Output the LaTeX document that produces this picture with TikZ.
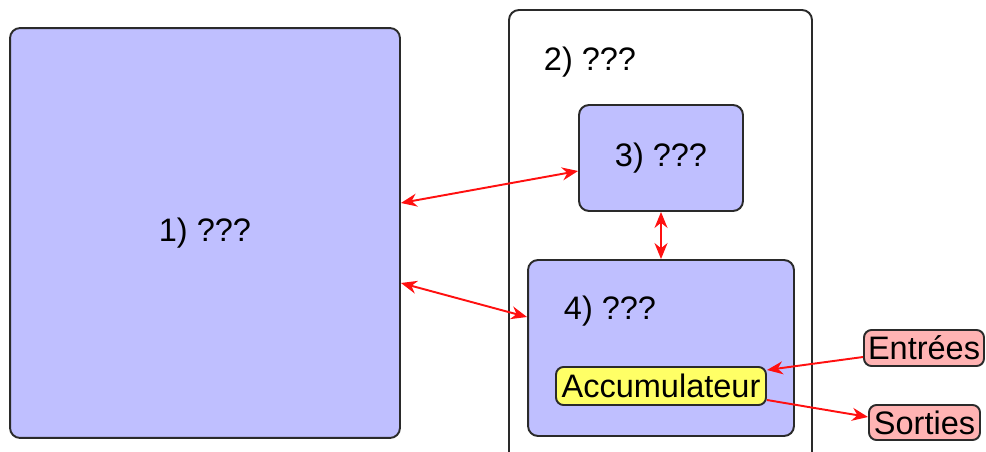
\documentclass[tikz,border=0pt]{standalone}
\usepackage{fontspec}
\setmainfont{Liberation Sans}
\usetikzlibrary{arrows.meta}
\definecolor{bleu}{HTML}{BFBFFF}
\definecolor{jaune}{HTML}{FFFF66}
\definecolor{rose}{HTML}{FFB3B3}
\definecolor{rouge}{HTML}{FF1010}
\definecolor{bord}{HTML}{2A2A2A}

\begin{document}
\begin{tikzpicture}[x=0.02cm,y=-0.02cm,>={Stealth[length=0.32cm,width=0.26cm]},
    bloc/.style={draw=bord,line width=1.1pt,rounded corners=0.2cm,fill=bleu,inner sep=0pt,font=\fontsize{18.5}{22}\selectfont},
    petit/.style={draw=bord,line width=1.1pt,rounded corners=0.15cm,inner sep=0pt,font=\fontsize{18.5}{22}\selectfont},
    fleche/.style={draw=rouge,line width=1.1pt}]
    \useasboundingbox (0,0) rectangle (986,452);

    % Cadre 2, ouvert en bas
    \draw[draw=bord,line width=1.1pt,rounded corners=0.2cm] (509,455) -- (509,10) -- (812,10) -- (812,455);
    \node[font=\fontsize{18.5}{22}\selectfont] (lab2) at (590,62) {2) ???};

    \node[bloc,minimum width=7.8cm,minimum height=8.2cm] (sys1) at (205,233) {1) ???};
    \node[bloc,minimum width=3.28cm,minimum height=2.12cm] (sys3) at (661,158) {3) ???};
    \node[bloc,minimum width=5.32cm,minimum height=3.52cm] (sys4) at (661,348) {};
    \node[font=\fontsize{18.5}{22}\selectfont] (lab4) at (610,311) {4) ???};

    \node[petit,fill=jaune,minimum width=4.2cm,minimum height=0.76cm] (acc) at (661,386) {Accumulateur};
    \node[petit,fill=rose,minimum width=2.4cm,minimum height=0.72cm] (ent) at (924,348) {Entrées};
    \node[petit,fill=rose,minimum width=2.22cm,minimum height=0.7cm] (sor) at (924.5,422.5) {Sorties};

    % Liaisons
    \draw[fleche,<->] ([yshift=0.6cm]sys1.east) -- ([yshift=-0.26cm]sys3.west);
    \draw[fleche,<->] ([yshift=-1cm]sys1.east) -- ([yshift=0.62cm]sys4.west);
    \draw[fleche,<->] (sys3.south) -- (sys4.north);
    \draw[fleche,->] ([yshift=-0.18cm]ent.west) -- ([yshift=0.32cm]acc.east);
    \draw[fleche,->] ([yshift=-0.28cm]acc.east) -- ([yshift=0.11cm]sor.west);
\end{tikzpicture}
\end{document}
